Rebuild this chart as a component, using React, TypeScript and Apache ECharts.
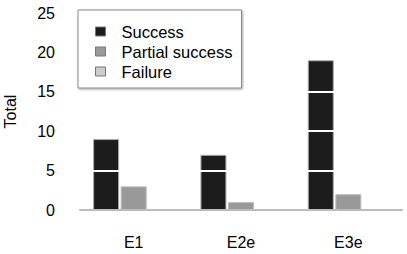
import React, { useEffect, useRef } from "react";
import * as echarts from "echarts";

const categories = ["E1", "E2e", "E3e"];
const success = [9, 7, 19];
const partialSuccess = [3, 1, 2];
const failure = [0, 0, 0];
const seriesNames = ["Success", "Partial success", "Failure"];

export default function App() {
  const ref = useRef<HTMLDivElement>(null);
  useEffect(() => {
    if (!ref.current) return;
    const chart = echarts.init(ref.current, null, { renderer: "svg" });
    const font = "'Liberation Sans', Arial, sans-serif";
    const barStyle = (color: string, border: string) => ({
      color,
      borderColor: border,
      borderWidth: 1,
    });
    chart.setOption({
      animation: false,
      backgroundColor: "#fff",
      textStyle: { fontFamily: font },
      grid: {
        left: 80,
        right: 5,
        top: 13,
        bottom: 44,
        containLabel: false,
        outerBoundsMode: "none",
      },
      legend: {
        orient: "vertical",
        left: 78,
        top: 10,
        padding: [13, 9, 8, 17],
        itemWidth: 10,
        itemHeight: 9,
        itemGap: 3,
        icon: "rect",
        backgroundColor: "#fff",
        borderColor: "#888",
        borderWidth: 1,
        shadowColor: "rgba(0,0,0,0.35)",
        shadowBlur: 2,
        shadowOffsetX: 1,
        shadowOffsetY: 1,
        textStyle: {
          fontFamily: font,
          fontSize: 16.5,
          color: "#000",
          padding: [0, 0, 0, 11],
        },
        itemStyle: { borderColor: "#777", borderWidth: 1 },
        data: seriesNames,
      },
      xAxis: {
        type: "category",
        data: categories,
        z: 4,
        axisLine: { show: true, lineStyle: { color: "#bbb", width: 2 } },
        axisTick: { show: false },
        axisLabel: { fontFamily: font, fontSize: 16, color: "#000", margin: 24 },
      },
      yAxis: {
        type: "value",
        min: 0,
        max: 25,
        interval: 5,
        z: 3,
        name: "Total",
        nameLocation: "middle",
        nameRotate: 90,
        nameGap: 62,
        nameTextStyle: { fontFamily: font, fontSize: 16, color: "#000" },
        axisLine: { show: false },
        axisTick: { show: false },
        axisLabel: { fontFamily: font, fontSize: 16, color: "#000", margin: 25 },
        splitLine: { show: true, lineStyle: { color: "#fff", width: 2 } },
      },
      series: [
        {
          name: seriesNames[0],
          type: "bar",
          data: success,
          barWidth: 26,
          barGap: "6%",
          itemStyle: barStyle("#1c1c1c", "#aaa"),
        },
        {
          name: seriesNames[1],
          type: "bar",
          data: partialSuccess,
          barWidth: 26,
          barGap: "6%",
          itemStyle: barStyle("#999", "#bbb"),
        },
        {
          name: seriesNames[2],
          type: "bar",
          data: failure,
          barWidth: 26,
          barGap: "6%",
          itemStyle: barStyle("#ccc", "#ccc"),
        },
      ],
    });
    return () => chart.dispose();
  }, []);
  return (
    <div
      ref={ref}
      style={{ position: "fixed", left: 0, top: 0, width: 407, height: 254 }}
    />
  );
}
